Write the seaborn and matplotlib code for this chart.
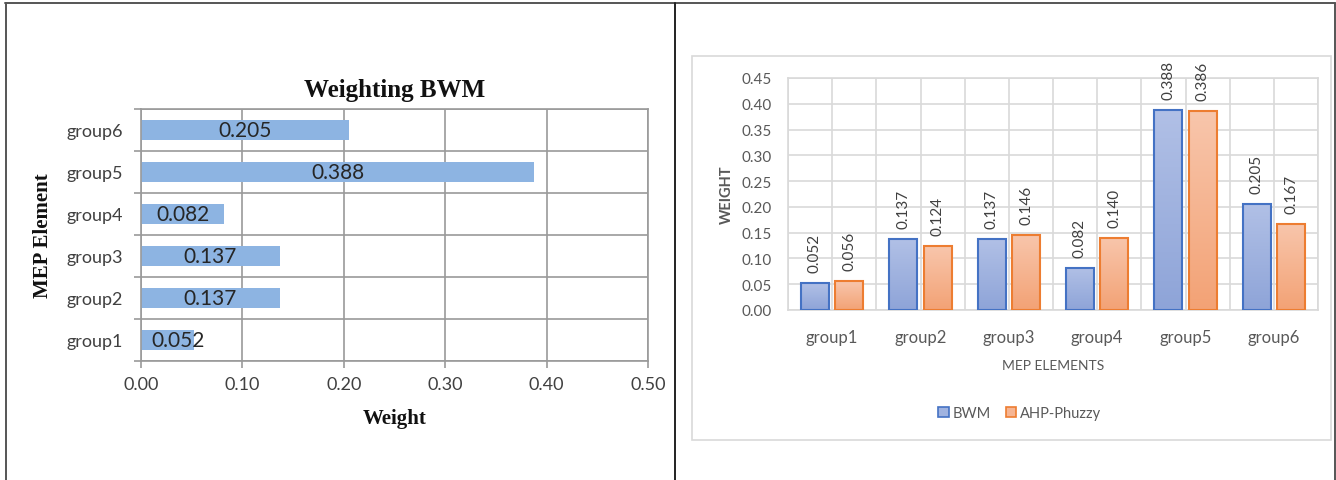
import numpy as np
import pandas as pd
import matplotlib
matplotlib.use("Agg")
import matplotlib.pyplot as plt
import seaborn as sns
from matplotlib.lines import Line2D
from matplotlib.patches import Rectangle, Patch
from matplotlib.ticker import FormatStrFormatter, MultipleLocator, FixedLocator
from matplotlib.colors import LinearSegmentedColormap

# ---------------- data ----------------
groups = ["group1", "group2", "group3", "group4", "group5", "group6"]
bwm_weights = [0.052, 0.137, 0.137, 0.082, 0.388, 0.205]
ahp_weights = [0.056, 0.124, 0.146, 0.140, 0.386, 0.167]
methods = ["BWM", "AHP-Phuzzy"]
left_title = "Weighting BWM"
left_xlabel = "Weight"
left_ylabel = "MEP Element"
right_xlabel = "MEP ELEMENTS"
right_ylabel = "WEIGHT"

sns.set_theme(style="white")
plt.rcParams["font.family"] = ["Lato", "DejaVu Sans"]

W, H = 1336, 481
fig = plt.figure(figsize=(W / 100, H / 100), dpi=100)
fig.patch.set_facecolor("white")

def fx(px):
    return px / W

def fy(py):
    return (H - py) / H

# ---------- outer table borders ----------
fig.add_artist(Line2D([fx(5), fx(1335)], [fy(4), fy(4)], color="#555555", lw=1.4))
fig.add_artist(Line2D([fx(5.5), fx(5.5)], [fy(4), fy(481)], color="#555555", lw=1.4))
fig.add_artist(Line2D([fx(675), fx(675)], [fy(4), fy(481)], color="#222222", lw=1.4))
fig.add_artist(Line2D([fx(1334.5), fx(1334.5)], [fy(4), fy(481)], color="#555555", lw=1.4))
# right chart frame
fig.add_artist(Rectangle((fx(692), fy(441)), fx(1331) - fx(692), fy(57) - fy(441),
                         transform=fig.transFigure, fill=False, edgecolor="#D9D9D9", lw=1.2))

# ================= LEFT CHART =================
axL = fig.add_axes([fx(141), fy(362), fx(648) - fx(141), fy(110) - fy(362)])
dfL = pd.DataFrame({"group": groups, "weight": bwm_weights})
sns.barplot(data=dfL, y="group", x="weight", order=groups[::-1], orient="h",
            color="#8DB4E2", saturation=1, width=0.48, ax=axL, edgecolor="none")
axL.set_xlim(0, 0.5)
axL.set_ylim(5.5, -0.5)
axL.xaxis.set_major_locator(MultipleLocator(0.1))
axL.xaxis.set_major_formatter(FormatStrFormatter("%.2f"))
axL.yaxis.set_minor_locator(FixedLocator(np.arange(-0.5, 6.0, 1.0)))
gridc = "#9A9A9A"
axL.grid(True, axis="x", which="major", color=gridc, lw=1.2)
axL.grid(True, axis="y", which="minor", color=gridc, lw=1.2)
axL.grid(False, axis="y", which="major")
axL.set_axisbelow(True)
for s in axL.spines.values():
    s.set_color(gridc)
    s.set_linewidth(1.2)
axL.tick_params(axis="x", which="major", length=5, width=1.2, color=gridc, direction="out",
                labelsize=13, labelcolor="#404040", pad=6, bottom=True)
axL.tick_params(axis="y", which="major", length=0, labelsize=13, labelcolor="#404040", pad=13)
axL.tick_params(axis="y", which="minor", length=5, width=1.2, color=gridc, direction="out", left=True)
axL.set_xlabel(left_xlabel, family="Liberation Serif", fontweight="bold", fontsize=15,
               color="#111111", labelpad=11)
axL.set_ylabel(left_ylabel, family="Liberation Serif", fontweight="bold", fontsize=15,
               color="#111111", labelpad=10)
axL.set_title(left_title, family="Liberation Serif", fontweight="bold", fontsize=18,
              color="#111111", pad=9)
for i, g in enumerate(groups[::-1]):
    v = bwm_weights[groups.index(g)]
    axL.text(max(v / 2, 0.037), i, f"{v:.3f}", ha="center", va="center",
             fontsize=15, color="#262626")

# ================= RIGHT CHART =================
axR = fig.add_axes([fx(788), fy(311), fx(1318) - fx(788), fy(79) - fy(311)])
dfR = pd.DataFrame({
    "group": groups * 2,
    "weight": bwm_weights + ahp_weights,
    "method": [methods[0]] * len(groups) + [methods[1]] * len(groups),
})
edge_cols = {"BWM": "#4472C4", "AHP-Phuzzy": "#ED7D31"}
sns.barplot(data=dfR, x="group", y="weight", hue="method", order=groups, hue_order=methods,
            palette=edge_cols, saturation=1, width=0.78, gap=0.19, legend=False, ax=axR)

grads = {
    "BWM": LinearSegmentedColormap.from_list("b", ["#8EA4D8", "#B1C0E6"]),
    "AHP-Phuzzy": LinearSegmentedColormap.from_list("o", ["#F3A275", "#F8C6AC"]),
}
grad = np.linspace(0, 1, 256).reshape(-1, 1)
for cont, m in zip(axR.containers, methods):
    for p in cont.patches:
        x0, y0 = p.get_x(), p.get_y()
        w, h = p.get_width(), p.get_height()
        p.set_facecolor("none")
        p.set_edgecolor(edge_cols[m])
        p.set_linewidth(1.5)
        p.set_zorder(3)
        im = axR.imshow(grad, cmap=grads[m], origin="lower", aspect="auto",
                        extent=(x0, x0 + w, y0, y0 + h), zorder=2, interpolation="bicubic")
        im.set_clip_path(p)
    axR.bar_label(cont, fmt="%.3f", rotation=90, padding=8, fontsize=11, color="#404040")

axR.set_xlim(-0.5, 5.5)
axR.set_ylim(0, 0.45)
axR.yaxis.set_major_locator(MultipleLocator(0.05))
axR.yaxis.set_major_formatter(FormatStrFormatter("%.2f"))
axR.xaxis.set_minor_locator(FixedLocator(np.arange(-0.5, 6.0, 1.0)))
lgc = "#D9D9D9"
axR.grid(True, axis="y", which="major", color=lgc, lw=1.2)
axR.grid(True, axis="x", which="both", color=lgc, lw=1.2)
axR.set_axisbelow(True)
for s in axR.spines.values():
    s.set_color(lgc)
    s.set_linewidth(1.2)
axR.tick_params(axis="both", which="both", length=0)
axR.tick_params(axis="y", labelsize=11, labelcolor="#595959", pad=12)
axR.tick_params(axis="x", labelsize=12, labelcolor="#595959", pad=14)
axR.set_xlabel(right_xlabel, fontsize=10, color="#595959", labelpad=10)
axR.set_ylabel(right_ylabel, fontsize=10.5, color="#595959", fontweight="bold", labelpad=5)

handles = [Patch(facecolor="#A0B3E0", edgecolor=edge_cols["BWM"], lw=1.2),
           Patch(facecolor="#F6B593", edgecolor=edge_cols["AHP-Phuzzy"], lw=1.2)]
leg = fig.legend(handles, methods, loc="center", bbox_to_anchor=(fx(1020), fy(414)), ncol=2,
                 frameon=False, fontsize=10.5, handlelength=0.7, handleheight=0.7,
                 handletextpad=0.3, columnspacing=1.0)
for t in leg.get_texts():
    t.set_color("#595959")

fig.savefig("out.png", dpi=100, facecolor="white")
